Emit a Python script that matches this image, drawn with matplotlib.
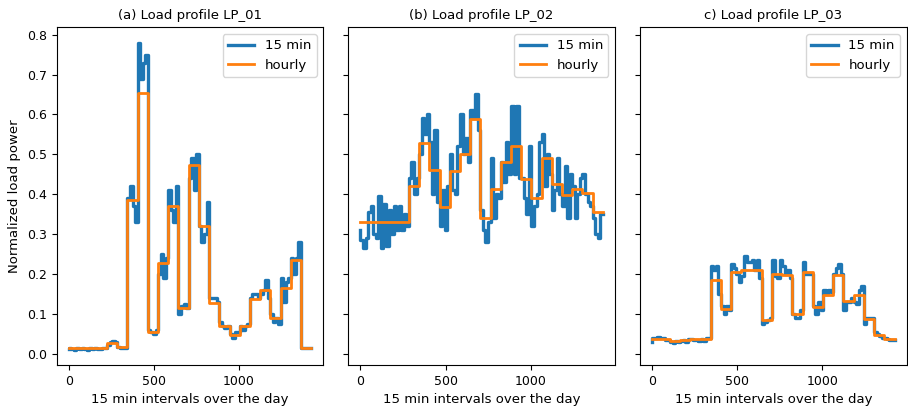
import numpy as np
import matplotlib
matplotlib.use("Agg")
import matplotlib.pyplot as plt

# x positions: 15-minute steps over the day, in minutes
minutes = list(range(0, 1440, 15))

lp01_15min = [
    0.012, 0.015, 0.012, 0.010, 0.014, 0.011, 0.015, 0.012,
    0.010, 0.013, 0.011, 0.014, 0.012, 0.011, 0.015, 0.013,
    0.022, 0.030, 0.031, 0.028, 0.016, 0.014, 0.014, 0.015,
    0.39, 0.42, 0.37, 0.33, 0.78, 0.69, 0.73, 0.75,
    0.06, 0.055, 0.05, 0.06, 0.20, 0.25, 0.19, 0.24,
    0.41, 0.36, 0.33, 0.42, 0.10, 0.12, 0.125, 0.115,
    0.44, 0.49, 0.41, 0.50, 0.32, 0.28, 0.30, 0.38,
    0.14, 0.14, 0.14, 0.13, 0.08, 0.07, 0.065, 0.07,
    0.05, 0.04, 0.055, 0.055, 0.07, 0.06, 0.07, 0.075,
    0.14, 0.15, 0.15, 0.14, 0.15, 0.16, 0.185, 0.14,
    0.10, 0.08, 0.09, 0.075, 0.19, 0.13, 0.18, 0.19,
    0.24, 0.20, 0.24, 0.28, 0.015, 0.013, 0.014, 0.015,
]
lp01_hourly = [0.013, 0.013, 0.013, 0.013, 0.027, 0.016, 0.386, 0.653,
               0.054, 0.228, 0.371, 0.115, 0.472, 0.319, 0.128, 0.069,
               0.046, 0.069, 0.138, 0.159, 0.090, 0.165, 0.236, 0.015]

lp02_15min = [
    0.31, 0.285, 0.265, 0.29, 0.355, 0.37, 0.30, 0.29,
    0.395, 0.265, 0.375, 0.27, 0.36, 0.30, 0.37, 0.31,
    0.37, 0.31, 0.35, 0.32, 0.44, 0.48, 0.40, 0.44,
    0.50, 0.59, 0.55, 0.60, 0.53, 0.40, 0.56, 0.38,
    0.32, 0.41, 0.31, 0.42, 0.50, 0.41, 0.40, 0.52,
    0.60, 0.50, 0.54, 0.48, 0.61, 0.59, 0.65, 0.56,
    0.36, 0.31, 0.28, 0.33, 0.49, 0.34, 0.40, 0.39,
    0.48, 0.43, 0.53, 0.45, 0.62, 0.45, 0.62, 0.44,
    0.44, 0.39, 0.35, 0.52, 0.32, 0.37, 0.40, 0.53,
    0.55, 0.42, 0.50, 0.45, 0.36, 0.41, 0.49, 0.40,
    0.37, 0.47, 0.34, 0.45, 0.42, 0.34, 0.40, 0.44,
    0.45, 0.40, 0.38, 0.37, 0.34, 0.30, 0.29, 0.35,
]
lp02_hourly = [0.33, 0.33, 0.33, 0.33, 0.33, 0.42, 0.528, 0.46,
               0.367, 0.457, 0.50, 0.588, 0.34, 0.413, 0.48, 0.52,
               0.438, 0.39, 0.49, 0.425, 0.397, 0.413, 0.402, 0.354]

lp03_15min = [
    0.030, 0.040, 0.040, 0.042, 0.038, 0.040, 0.035, 0.033,
    0.030, 0.027, 0.032, 0.030, 0.032, 0.034, 0.030, 0.036,
    0.037, 0.035, 0.033, 0.032, 0.036, 0.031, 0.040, 0.038,
    0.22, 0.21, 0.22, 0.15, 0.12, 0.10, 0.12, 0.11,
    0.225, 0.215, 0.20, 0.18, 0.195, 0.245, 0.23, 0.23,
    0.235, 0.21, 0.235, 0.19, 0.075, 0.08, 0.085, 0.09,
    0.235, 0.195, 0.19, 0.235, 0.22, 0.20, 0.21, 0.19,
    0.10, 0.09, 0.09, 0.11, 0.23, 0.20, 0.20, 0.20,
    0.12, 0.10, 0.13, 0.11, 0.16, 0.15, 0.16, 0.155,
    0.20, 0.215, 0.225, 0.20, 0.11, 0.13, 0.13, 0.14,
    0.13, 0.125, 0.16, 0.17, 0.075, 0.09, 0.09, 0.09,
    0.055, 0.05, 0.045, 0.04, 0.038, 0.036, 0.035, 0.034,
]
lp03_hourly = [0.036, 0.036, 0.032, 0.033, 0.036, 0.037, 0.184, 0.111,
               0.204, 0.21, 0.21, 0.084, 0.20, 0.196, 0.10, 0.205,
               0.117, 0.146, 0.196, 0.132, 0.146, 0.086, 0.047, 0.036]

titles = ["(a) Load profile LP_01", "(b) Load profile LP_02", "c) Load profile LP_03"]
series = [(lp01_15min, lp01_hourly), (lp02_15min, lp02_hourly), (lp03_15min, lp03_hourly)]

plt.rcParams['font.family'] = ['DejaVu Sans']
plt.rcParams['font.size'] = 9

fig, axes = plt.subplots(1, 3, figsize=(9.08, 4.09), dpi=100, sharey=True)
fig.subplots_adjust(left=0.0624, right=0.9985, top=0.9333, bottom=0.1076, wspace=0.094)

for ax, title, (q, h) in zip(axes, titles, series):
    ax.step(minutes, q, color='#1f77b4', lw=2.4, label='15 min')
    ax.step(minutes, np.repeat(h, 4), color='#ff7f0e', lw=2.0, label='hourly')
    ax.set_title(title, fontsize=9.5)
    ax.set_xlabel('15 min intervals over the day', fontsize=9.5)
    ax.legend(loc='upper right', fontsize=9.5)
    ax.set_xticks([0, 500, 1000])

axes[0].set_ylabel('Normalized load power', fontsize=9.5)
axes[0].set_yticks([0.0, 0.1, 0.2, 0.3, 0.4, 0.5, 0.6, 0.7, 0.8])

fig.savefig('out.png', dpi=100)
